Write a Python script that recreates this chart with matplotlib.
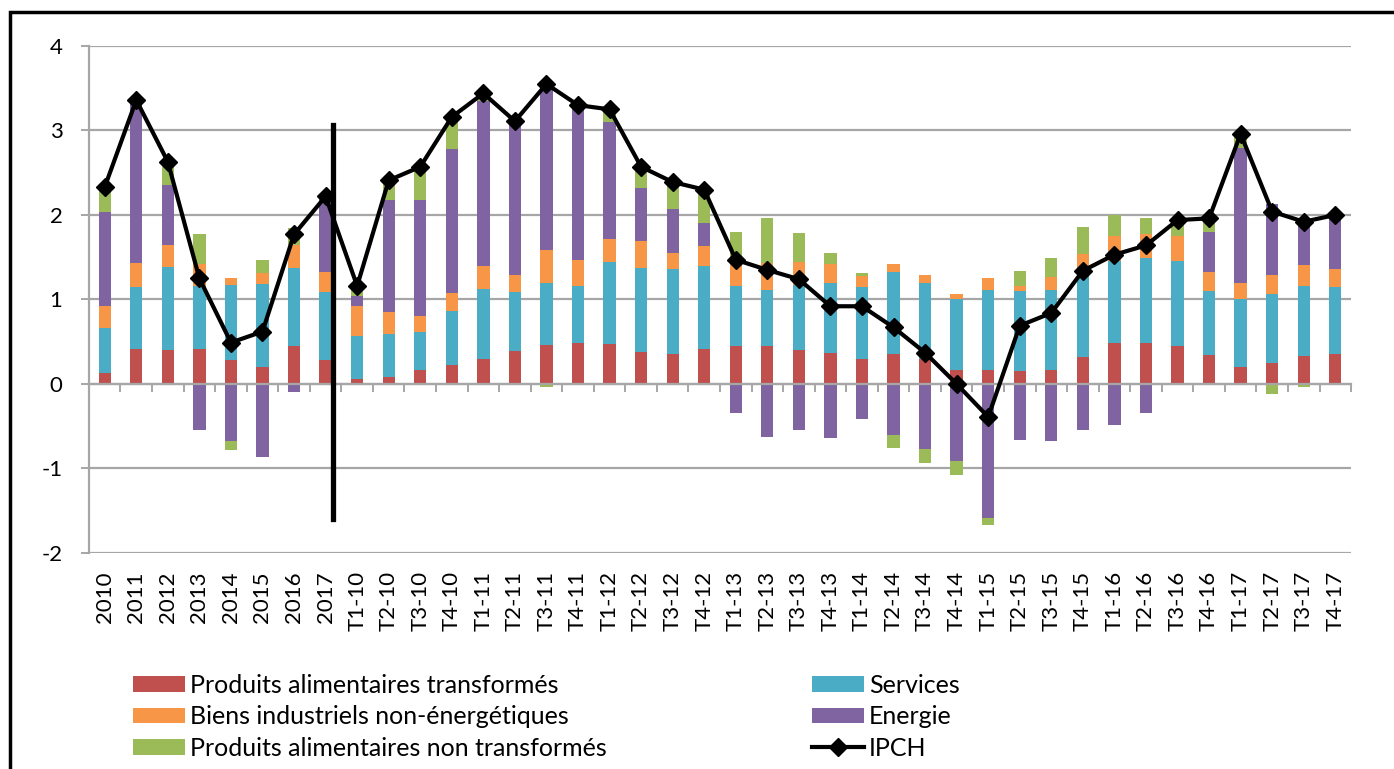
import numpy as np
import matplotlib.pyplot as plt
from matplotlib.patches import Rectangle

plt.rcParams['font.family'] = ['Lato', 'DejaVu Sans']
plt.rcParams['axes.unicode_minus'] = False

# categories
cats = ['2010', '2011', '2012', '2013', '2014', '2015', '2016', '2017',
        'T1-10', 'T2-10', 'T3-10', 'T4-10', 'T1-11', 'T2-11', 'T3-11', 'T4-11',
        'T1-12', 'T2-12', 'T3-12', 'T4-12', 'T1-13', 'T2-13', 'T3-13', 'T4-13',
        'T1-14', 'T2-14', 'T3-14', 'T4-14', 'T1-15', 'T2-15', 'T3-15', 'T4-15',
        'T1-16', 'T2-16', 'T3-16', 'T4-16', 'T1-17', 'T2-17', 'T3-17', 'T4-17']

# contributions (points de %)
alim_transf = [0.13, 0.41, 0.40, 0.41, 0.28, 0.20, 0.45, 0.28,
               0.06, 0.08, 0.16, 0.22, 0.29, 0.39, 0.46, 0.48,
               0.47, 0.38, 0.35, 0.41, 0.45, 0.45, 0.40, 0.37,
               0.29, 0.36, 0.30, 0.16, 0.16, 0.15, 0.17, 0.32,
               0.49, 0.49, 0.45, 0.34, 0.20, 0.25, 0.33, 0.35]
services = [0.53, 0.74, 0.99, 0.75, 0.89, 0.98, 0.92, 0.81,
            0.51, 0.51, 0.46, 0.64, 0.84, 0.70, 0.74, 0.68,
            0.97, 0.99, 1.01, 0.99, 0.71, 0.66, 0.77, 0.83,
            0.86, 0.97, 0.90, 0.84, 0.95, 0.95, 0.94, 1.01,
            0.97, 1.00, 1.00, 0.76, 0.80, 0.82, 0.83, 0.80]
biens_ind = [0.26, 0.28, 0.25, 0.26, 0.09, 0.13, 0.28, 0.23,
             0.35, 0.26, 0.19, 0.22, 0.27, 0.20, 0.38, 0.31,
             0.28, 0.32, 0.19, 0.23, 0.26, 0.32, 0.27, 0.22,
             0.13, 0.09, 0.09, 0.07, 0.15, 0.06, 0.16, 0.21,
             0.29, 0.28, 0.30, 0.23, 0.19, 0.22, 0.25, 0.21]
energie = [1.12, 1.91, 0.71, -0.54, -0.67, -0.86, -0.09, 0.89,
           0.12, 1.33, 1.37, 1.70, 1.95, 1.79, 1.93, 1.81,
           1.38, 0.63, 0.52, 0.28, -0.34, -0.63, -0.55, -0.64,
           -0.41, -0.60, -0.77, -0.91, -1.59, -0.66, -0.67, -0.54,
           -0.48, -0.34, 0.00, 0.47, 1.60, 0.84, 0.51, 0.63]
alim_non_transf = [0.27, 0.02, 0.28, 0.36, -0.11, 0.16, 0.20, 0.01,
                   0.11, 0.22, 0.38, 0.37, 0.08, 0.03, -0.04, 0.02,
                   0.12, 0.23, 0.30, 0.37, 0.38, 0.54, 0.35, 0.13,
                   0.03, -0.16, -0.16, -0.17, -0.08, 0.18, 0.22, 0.32,
                   0.25, 0.20, 0.19, 0.14, 0.15, -0.12, -0.04, 0.00]
ipch = [2.33, 3.36, 2.63, 1.25, 0.49, 0.62, 1.77, 2.22,
        1.16, 2.41, 2.57, 3.16, 3.44, 3.11, 3.55, 3.30,
        3.25, 2.57, 2.39, 2.30, 1.47, 1.35, 1.24, 0.92,
        0.92, 0.67, 0.37, 0.00, -0.39, 0.69, 0.84, 1.34,
        1.53, 1.64, 1.94, 1.96, 2.96, 2.04, 1.92, 2.00]

series = [
    (alim_transf, '#C0504D', 'Produits alimentaires transformés'),
    (services, '#4BACC6', 'Services'),
    (biens_ind, '#F79646', 'Biens industriels non-énergétiques'),
    (energie, '#8064A2', 'Energie'),
    (alim_non_transf, '#9BBB59', 'Produits alimentaires non transformés'),
]

fig = plt.figure(figsize=(13.94, 7.69), dpi=100)
ax = fig.add_axes([0.0638, 0.2809, 0.9054, 0.6593])

x = np.arange(len(cats))
pos = np.zeros(len(cats))
neg = np.zeros(len(cats))
bars = {}
for vals, col, lab in series:
    v = np.array(vals)
    bottom = np.where(v >= 0, pos, neg)
    bars[lab] = ax.bar(x, v, 0.39, bottom=bottom, color=col, label=lab, zorder=2)
    pos = pos + np.where(v >= 0, v, 0)
    neg = neg + np.where(v < 0, v, 0)

line, = ax.plot(x, ipch, color='black', lw=3, marker='D', markersize=9,
                label='IPCH', zorder=4)

# separation annuel / trimestriel
ax.plot([7.22, 7.22], [3.06, -1.6], color='black', lw=3.8, zorder=5)

ax.set_xlim(-0.5, len(cats) - 0.5)
ax.set_ylim(-2, 4)
ax.set_yticks(range(-2, 5))
ax.grid(axis='y', color='#A6A6A6', lw=1.6, zorder=0)
for s in ['top', 'right']:
    ax.spines[s].set_visible(False)
ax.spines['left'].set_color('#A6A6A6')
ax.spines['left'].set_linewidth(1.6)
ax.tick_params(axis='y', length=6, width=1.4, color='#A6A6A6', pad=13,
               labelsize=16)

# axe des categories a 0, etiquettes en bas
ax.spines['bottom'].set_position(('data', 0))
ax.spines['bottom'].set_color('#A6A6A6')
ax.spines['bottom'].set_linewidth(1.6)
ax.set_xticks(np.arange(len(cats) + 1) - 0.5)
ax.set_xticklabels([])
ax.tick_params(axis='x', length=6, width=1.4, color='#A6A6A6')

sec = ax.secondary_xaxis('bottom')
sec.set_xticks(x)
sec.set_xticklabels(cats, rotation=90, fontsize=16)
sec.tick_params(length=0, pad=13)
sec.spines['bottom'].set_visible(False)

handles = [bars['Produits alimentaires transformés'],
           bars['Biens industriels non-énergétiques'],
           bars['Produits alimentaires non transformés'],
           bars['Services'], bars['Energie'], line]
fig.legend(handles=handles, labels=[h.get_label() for h in handles],
           ncol=2, loc='upper left', bbox_to_anchor=(133 / 1394, 1 - 674 / 769),
           frameon=False, fontsize=18, borderpad=0, borderaxespad=0,
           handlelength=2.08, handleheight=0.6, handletextpad=0.2,
           columnspacing=8.2, labelspacing=0.33)

# cadre
fig.patches.append(Rectangle((10 / 1394, -0.1), 1.5, 0.984 + 0.1,
                             transform=fig.transFigure, fill=False,
                             edgecolor='black', lw=2.5))

fig.savefig('out.png', dpi=100)
